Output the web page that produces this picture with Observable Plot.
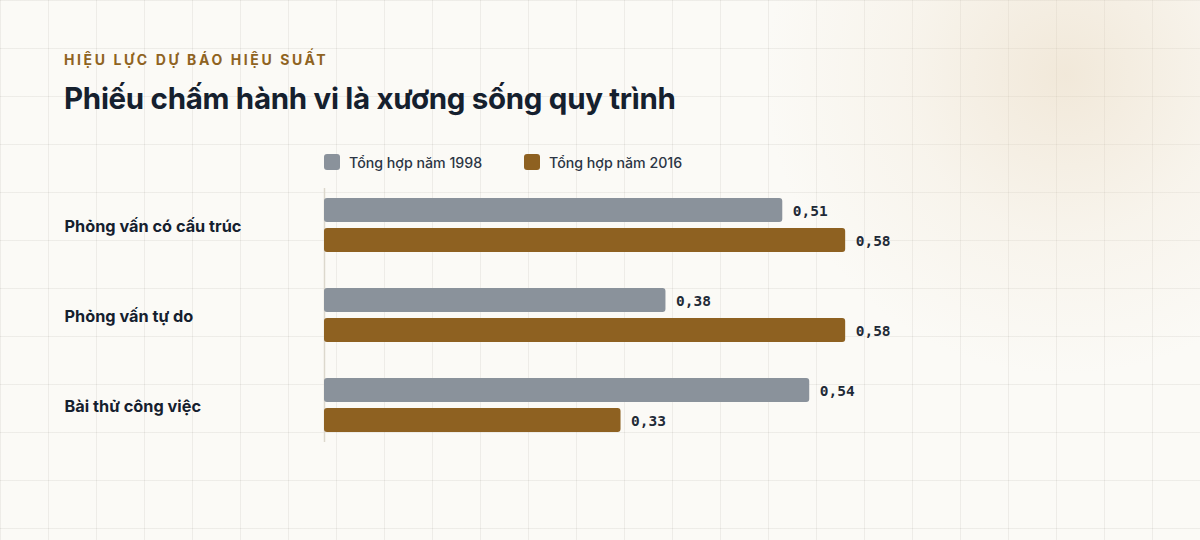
<!DOCTYPE html>
<html>
<head>
<meta charset="utf-8">
<script src="https://cdn.jsdelivr.net/npm/d3@7"></script>
<script src="https://cdn.jsdelivr.net/npm/@observablehq/plot@0.6"></script>
<style>
  html, body { margin: 0; padding: 0; }
  body { width: 1200px; height: 540px; overflow: hidden; font-family: Inter, "Noto Sans", sans-serif; }
  #page {
    position: relative; width: 1200px; height: 540px;
    background-color: #fbfaf6;
    background-image:
      radial-gradient(circle at 1065px 75px, rgba(228, 208, 178, 0.42) 0px, rgba(236, 222, 200, 0.22) 160px, rgba(251, 250, 246, 0) 300px),
      linear-gradient(to right, rgba(70, 60, 40, 0.07) 1px, transparent 1px),
      linear-gradient(to bottom, rgba(70, 60, 40, 0.07) 1px, transparent 1px);
    background-size: 100% 100%, 48px 48px, 48px 48px;
  }
  #eyebrow {
    position: absolute; left: 64px; top: 51px;
    font-size: 14px; font-weight: 700; letter-spacing: 2.6px;
    color: #8f6322; line-height: 18px; white-space: nowrap;
  }
  #title {
    position: absolute; left: 64px; top: 80px;
    font-size: 29.5px; font-weight: 700; color: #15202e;
    line-height: 36px; letter-spacing: -0.3px; white-space: nowrap;
  }
  #legend { position: absolute; left: 0; top: 0; }
  .item { position: absolute; top: 154px; height: 16px; display: flex; align-items: center; white-space: nowrap; }
  .sw { width: 16px; height: 16px; border-radius: 3px; margin-right: 9px; }
  .lab { font-size: 14.2px; color: #2b3544; font-weight: 500; }
  #chart { position: absolute; left: 0; top: 180px; }
</style>
</head>
<body>
<div id="page">
  <div id="eyebrow">HIỆU LỰC DỰ BÁO HIỆU SUẤT</div>
  <div id="title">Phiếu chấm hành vi là xương sống quy trình</div>
  <div id="legend"></div>
  <div id="chart"></div>
</div>
<script>
const categories = ["Phỏng vấn có cấu trúc", "Phỏng vấn tự do", "Bài thử công việc"];
const seriesNames = ["Tổng hợp năm 1998", "Tổng hợp năm 2016"];
const values1998 = [0.51, 0.38, 0.54];
const values2016 = [0.58, 0.58, 0.33];
const colors = ["#8a929b", "#8e6121"];

const rows1998 = categories.map((c, i) => ({category: c, value: values1998[i]}));
const rows2016 = categories.map((c, i) => ({category: c, value: values2016[i]}));
const fmt = v => d3.format(".2f")(v).replace(".", ",");

// legend
const legend = document.getElementById("legend");
const legendLefts = [324, 524];
seriesNames.forEach((s, i) => {
  const el = document.createElement("div");
  el.className = "item";
  el.style.left = legendLefts[i] + "px";
  el.innerHTML = `<div class="sw" style="background:${colors[i]}"></div><span class="lab">${s}</span>`;
  legend.appendChild(el);
});

const labelFont = "'DejaVu Sans Mono', 'Liberation Mono', monospace";

const chart = Plot.plot({
  width: 1200,
  height: 270,
  marginLeft: 324,
  marginRight: 247,
  marginTop: 0,
  marginBottom: 0,
  style: {background: "transparent", overflow: "visible"},
  x: {domain: [0, 0.7], axis: null},
  y: {domain: categories, padding: 0, label: null},
  marks: [
    Plot.ruleX([0], {stroke: "#dcd8cd", strokeWidth: 1.5, insetTop: 8, insetBottom: 8}),
    Plot.barX(rows1998, {x: "value", y: "category", fill: colors[0], insetTop: 18, insetBottom: 48, rx: 3}),
    Plot.barX(rows2016, {x: "value", y: "category", fill: colors[1], insetTop: 48, insetBottom: 18, rx: 3}),
    Plot.text(rows1998, {x: "value", y: "category", text: d => fmt(d.value), dy: -14, dx: 10, textAnchor: "start", fill: "#1f2a37", fontSize: 14.5, fontWeight: 700, fontFamily: labelFont}),
    Plot.text(rows2016, {x: "value", y: "category", text: d => fmt(d.value), dy: 16, dx: 10, textAnchor: "start", fill: "#1f2a37", fontSize: 14.5, fontWeight: 700, fontFamily: labelFont}),
    Plot.axisY({tickSize: 0, tickPadding: 0, textAnchor: "start", dx: -260, dy: 1, fontSize: 16.3, fontWeight: 700, fill: "#15202e", fontFamily: "Inter, sans-serif", label: null})
  ]
});
document.getElementById("chart").appendChild(chart);
</script>
</body>
</html>
